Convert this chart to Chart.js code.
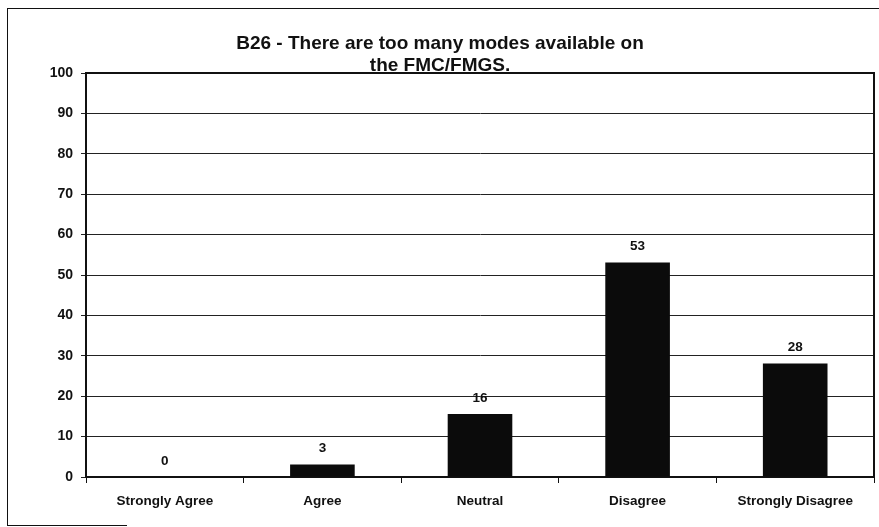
<!DOCTYPE html>
<html><head><meta charset="utf-8">
<script src="https://cdn.jsdelivr.net/npm/chart.js@4/dist/chart.umd.min.js"></script>
<style>
html,body{margin:0;padding:0;background:#fff;}
#wrap{position:relative;width:879px;height:527px;overflow:hidden;}
.ln{position:absolute;background:#111;pointer-events:none;}
canvas{position:absolute;left:0;top:0;}
</style></head>
<body><div id="wrap"><canvas id="c" width="879" height="527"></canvas>
<div class="ln" style="left:7px;top:8px;width:872px;height:1px;"></div>
<div class="ln" style="left:7px;top:8px;width:1px;height:518px;"></div>
<div class="ln" style="left:7px;top:525px;width:120px;height:1px;"></div>
</div>
<script>
const categories = ["Strongly Agree", "Agree", "Neutral", "Disagree", "Strongly Disagree"];
const values = [0, 3.1, 15.6, 53.1, 28.1];
const yTicks = [0, 10, 20, 30, 40, 50, 60, 70, 80, 90, 100];
const titleLines = ["B26 - There are too many modes available on", "the FMC/FMGS."];

const FONT = "'Liberation Sans', Arial, sans-serif";

const overlay = {
  id: 'overlay',
  afterDatasetsDraw(chart) {
    const ctx = chart.ctx;
    const meta = chart.getDatasetMeta(0);
    ctx.save();
    ctx.fillStyle = '#111';
    ctx.font = 'bold 13.5px ' + FONT;
    ctx.textAlign = 'center';
    ctx.textBaseline = 'bottom';
    meta.data.forEach((bar, i) => {
      ctx.fillText(String(Math.round(values[i])), bar.x, bar.y - 9);
    });
    ctx.restore();
  },
  afterDraw(chart) {
    const ctx = chart.ctx;
    ctx.save();
    ctx.fillStyle = '#111';
    ctx.font = 'bold 19px ' + FONT;
    ctx.textAlign = 'center';
    ctx.textBaseline = 'middle';
    const cx = 440;
    titleLines.forEach((t, i) => ctx.fillText(t, cx, 44 + i * 22));
    ctx.restore();
  }
};

new Chart(document.getElementById('c'), {
  type: 'bar',
  data: {
    labels: categories,
    datasets: [{
      data: values,
      backgroundColor: '#0b0b0b',
      borderWidth: 0,
      barPercentage: 0.41,
      categoryPercentage: 1.0
    }]
  },
  options: {
    responsive: false,
    animation: false,
    events: [],
    layout: { padding: { left: 6, right: 5, top: 73, bottom: 0 } },
    plugins: { legend: { display: false }, title: { display: false }, tooltip: { enabled: false } },
    scales: {
      x: {
        offset: true,
        grid: { offset: true, drawOnChartArea: false, drawTicks: true, tickLength: 6, color: '#111', lineWidth: 1 },
        border: { display: true, color: '#111', width: 2 },
        ticks: { color: '#111', font: { family: FONT, size: 13.5, weight: 'bold' }, padding: 10, maxRotation: 0, autoSkip: false },
        afterFit(s) { s.height = 50; }
      },
      y: {
        min: 0, max: 100,
        afterBuildTicks(s) { s.ticks = yTicks.map(v => ({ value: v })); },
        grid: { color: '#222', lineWidth: 1, drawTicks: true, tickLength: 5 },
        border: { display: true, color: '#111', width: 2 },
        ticks: { color: '#111', font: { family: FONT, size: 14, weight: 'bold' }, padding: 8 },
        afterFit(s) { s.width = 80; }
      }
    }
  },
  plugins: [overlay, {
    id: 'plotBorder',
    afterDatasetsDraw(chart) {
      const a = chart.chartArea, ctx = chart.ctx;
      ctx.save();
      ctx.strokeStyle = '#111';
      ctx.lineWidth = 2;
      ctx.beginPath();
      ctx.moveTo(a.left, a.top); ctx.lineTo(a.right, a.top); ctx.lineTo(a.right, a.bottom);
      ctx.stroke();
      ctx.restore();
    }
  }]
});
</script>
</body></html>
